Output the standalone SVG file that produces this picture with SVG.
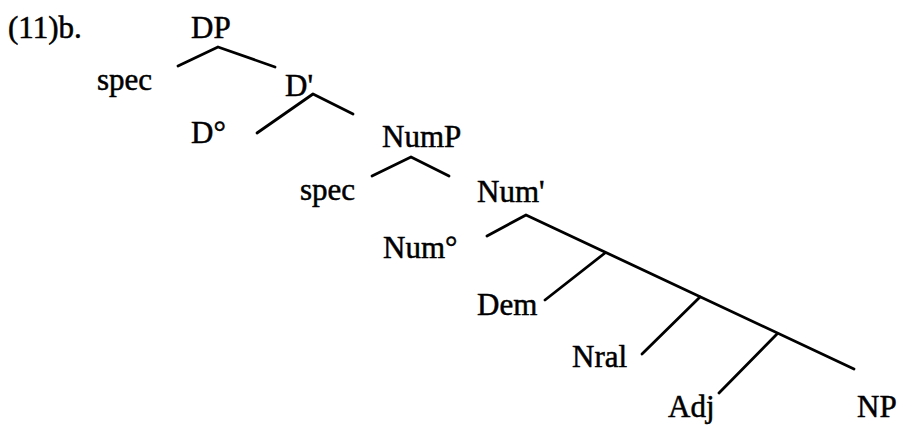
<svg xmlns="http://www.w3.org/2000/svg" width="898" height="425" viewBox="0 0 898 425">
<style>
text{font-family:"Liberation Serif","Times New Roman",serif;font-size:31px;fill:#000;stroke:#000;stroke-width:0.5}
.e{stroke:#000;stroke-width:2.8;fill:none;stroke-linecap:round;stroke-linejoin:round}
</style>
<rect width="898" height="425" fill="#fff"/>
<g id="label"><text x="8" y="38">(11)b.</text></g>
<g id="connectors">
<polyline class="e" points="178,66 218,47 275,67"/>
<polyline class="e" points="257,133 313,94 353,114"/>
<polyline class="e" points="372,176 411,157 449,176"/>
<polyline class="e" points="487,236 526,215 854,369"/>
<line class="e" x1="605" y1="253" x2="545" y2="300"/>
<line class="e" x1="700" y1="297" x2="642" y2="354"/>
<line class="e" x1="777" y1="334" x2="719" y2="393"/>
</g>
<g id="DP"><text x="191" y="38">DP</text></g>
<g id="spec1"><text x="97" y="90">spec</text></g>
<g id="Dbar"><text x="285" y="96">D'</text></g>
<g id="D0"><text x="191" y="143">D°</text></g>
<g id="NumP"><text x="382" y="147">NumP</text></g>
<g id="spec2"><text x="300" y="200">spec</text></g>
<g id="Numbar"><text x="477" y="202">Num'</text></g>
<g id="Num0"><text x="383" y="258">Num°</text></g>
<g id="Dem"><text x="477" y="315">Dem</text></g>
<g id="Nral"><text x="572" y="367">Nral</text></g>
<g id="Adj"><text x="668" y="417">Adj</text></g>
<g id="NP"><text x="857" y="417">NP</text></g>
</svg>
